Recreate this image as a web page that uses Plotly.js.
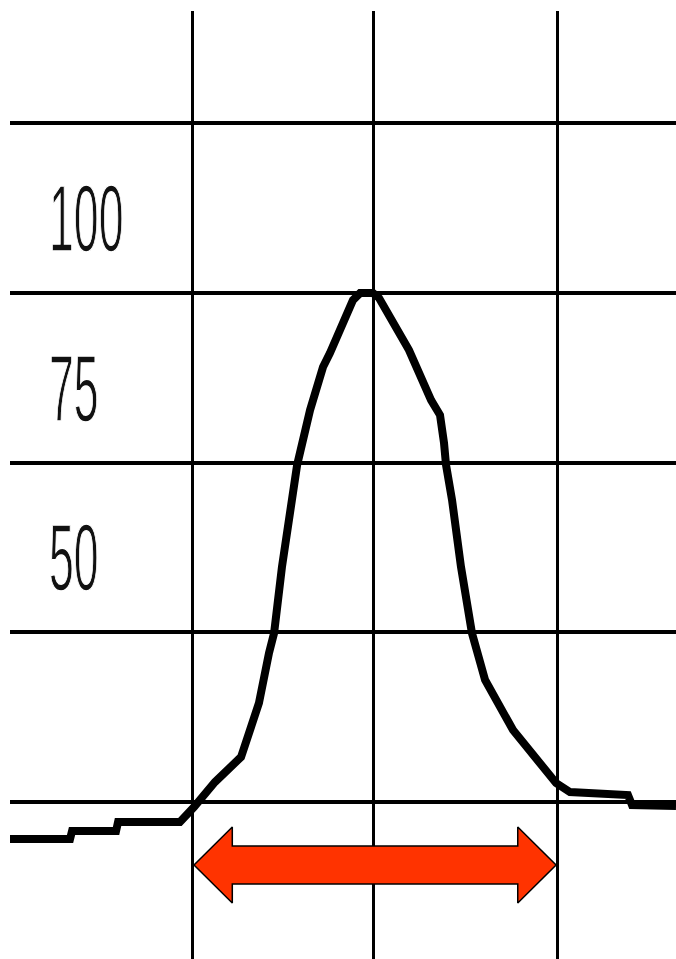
<!DOCTYPE html>
<html>
<head>
<meta charset="utf-8">
<script src="https://cdn.plot.ly/plotly-3.0.1.min.js"></script>
<style>
  html, body { margin: 0; padding: 0; background: #ffffff; }
  #chart { width: 676px; height: 959px; }
</style>
</head>
<body>
<div id="chart"></div>
<script>
// ---- data ----
const curveX = [-1.989, -1.660, -1.649, -1.408, -1.397, -1.058, -0.981, -0.866, -0.723, -0.625,
                -0.570, -0.542, -0.499, -0.449, -0.416, -0.345, -0.274, -0.236, -0.153, -0.110,
                -0.071, 0.000, 0.033, 0.197, 0.318, 0.367, 0.389, 0.400, 0.433, 0.482,
                0.542, 0.570, 0.614, 0.767, 0.882, 1.003, 1.079, 1.397, 1.419, 1.660];
const curveY = [9.55, 9.55, 10.73, 10.73, 12.05, 12.05, 14.26, 17.95, 21.63, 29.58,
                36.94, 39.89, 49.61, 59.48, 64.63, 72.73, 79.06, 81.13, 85.99, 88.93,
                89.96, 89.96, 89.23, 81.57, 74.2, 72.0, 67.87, 64.63, 59.48, 49.61,
                39.89, 36.94, 32.97, 25.6, 21.63, 17.8, 16.47, 16.03, 14.56, 14.41];
const gridX = [-0.99, 0, 1.01];
const gridY = [15, 40, 65, 90, 115];
const labelValues = [100, 75, 50];
const labelText = ["100", "75", "50"];
const arrowSpan = [-0.981, 1.003];   // width marked by the red double arrow
const arrowLevel = 5.72;

// ---- build arrow polygon from the span ----
const headLen = 0.21, headHalf = 5.6, shaftHalf = 2.8;
const a0 = arrowSpan[0], a1 = arrowSpan[1], ay = arrowLevel;
const arrowX = [a0, a0 + headLen, a0 + headLen, a1 - headLen, a1 - headLen, a1,
                a1 - headLen, a1 - headLen, a0 + headLen, a0 + headLen, a0];
const arrowY = [ay, ay + headHalf, ay + shaftHalf, ay + shaftHalf, ay + headHalf, ay,
                ay - headHalf, ay - shaftHalf, ay - shaftHalf, ay - headHalf, ay];

const traces = [
  {
    x: curveX, y: curveY, type: 'scatter', mode: 'lines',
    line: { color: '#000000', width: 8, shape: 'linear' },
    hoverinfo: 'skip', showlegend: false
  },
  {
    x: arrowX, y: arrowY, type: 'scatter', mode: 'lines',
    fill: 'toself', fillcolor: '#FF3300',
    line: { color: '#000000', width: 1.5 },
    hoverinfo: 'skip', showlegend: false
  }
];

const annotations = labelValues.map((v, i) => ({
  text: labelText[i], xref: 'paper', yref: 'y', x: 0.0556, y: v,
  xanchor: 'left', yanchor: 'middle', yshift: 7, showarrow: false,
  font: { family: 'Liberation Sans, Arial, sans-serif', size: 95, color: '#111111' }
}));

const layout = {
  width: 676, height: 959,
  margin: { l: 10, r: 0, t: 11, b: 0, pad: 0 },
  paper_bgcolor: '#ffffff', plot_bgcolor: '#ffffff',
  showlegend: false,
  xaxis: {
    range: [-1.989, 1.660], tickmode: 'array', tickvals: gridX,
    showgrid: true, gridcolor: '#000000', gridwidth: 3,
    showticklabels: false, ticks: '', zeroline: false, showline: false, fixedrange: true
  },
  yaxis: {
    range: [-8.12, 131.5], tickmode: 'array', tickvals: gridY,
    showgrid: true, gridcolor: '#000000', gridwidth: 4,
    showticklabels: false, ticks: '', zeroline: false, showline: false, fixedrange: true
  },
  annotations: annotations
};

Plotly.newPlot('chart', traces, layout, { staticPlot: true, displayModeBar: false }).then(() => {
  // narrow the tall label digits as in the reference
  const s = 0.47;
  document.querySelectorAll('#chart .annotation-text').forEach(t => {
    const bb = t.getBBox();
    const prev = t.getAttribute('transform') || '';
    t.setAttribute('transform', prev + ` translate(${bb.x * (1 - s)},0) scale(${s},1)`);
    t.style.stroke = '#ffffff';
    t.style.strokeWidth = '1.5px';
    t.style.paintOrder = 'fill stroke';
  });
});
</script>
</body>
</html>
